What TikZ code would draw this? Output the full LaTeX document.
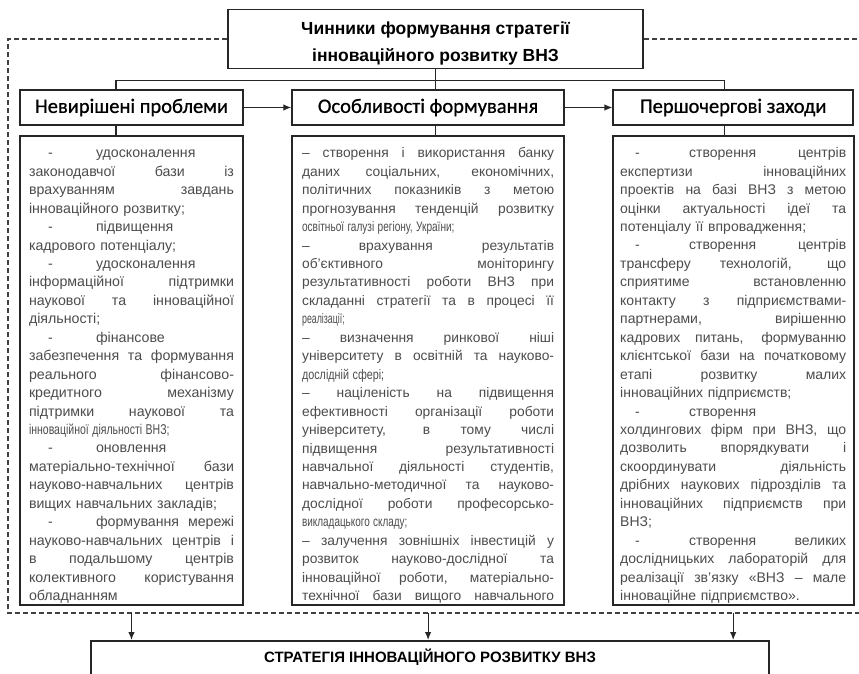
\documentclass[tikz,border=0pt]{standalone}
\usepackage{fontspec}
\setmainfont{Liberation Sans}
\newfontfamily\headfont[FakeBold=0.9]{Carlito}
\usetikzlibrary{arrows.meta, positioning}

% one text line: justified, left with natural spaces, or left and squeezed
\newlength\dashin
\newlength\dashtab
\newcommand\lnj[1]{\noindent\hbox to\hsize{\spaceskip=.24em plus 1fil minus .08em\xspaceskip=\spaceskip #1}\par}
\newcommand\lnl[1]{\noindent\hbox to\hsize{#1\hfil}\par}
\newcommand\lnc[2]{\noindent\hbox to\hsize{\scalebox{#1}[1]{#2}\hfil}\par}
\newcommand\tabj[1]{\lnj{\hbox to\dashtab{\hskip\dashin -\hfil}#1}}
\newcommand\tabl[1]{\lnl{\hbox to\dashtab{\hskip\dashin -\hfil}#1}}
\newcommand\firstgap{\rule{0pt}{20pt}}

\begin{document}
\begin{tikzpicture}[
    x=1pt, y=1pt,
    node distance=9.5pt and 47.5pt,
    >={Latex[length=8pt, width=6.5pt]},
    title/.style={rectangle, draw=black!85, line width=1.6pt, fill=white, minimum width=415pt, minimum height=58pt, align=center, font=\bfseries\fontsize{17.5}{27}\selectfont},
    head/.style={rectangle, draw=black!85, line width=1.6pt, fill=white, minimum height=35pt, inner sep=0pt, font=\headfont\fontsize{20.5}{20.5}\selectfont},
    content/.style={rectangle, draw=black!85, line width=1.6pt, fill=white, minimum height=469pt, inner ysep=0pt, text=black!70},
    result/.style={rectangle, draw=black!85, line width=1.6pt, anchor=north, minimum width=678pt, inner sep=0pt, text height=22pt, text depth=20pt, font=\bfseries\fontsize{15}{15}\selectfont},
    line/.style={line width=1.2pt, color=black!85},
    arrow/.style={->, line width=1.2pt, color=black!85},
    frame/.style={line width=1.3pt, color=black!75, dash pattern=on 5pt off 3pt},
]
\useasboundingbox (0,0) rectangle (859,-674);

% --- Title ---
\node[title] (top) at (435.5,-39) {\rule{0pt}{22pt}Чинники формування стратегії\\інноваційного розвитку ВНЗ};

% --- Headers ---
\node[head, minimum width=223pt] (h1) at (131.5,-107.5) {Невирішені проблеми};
\node[head, minimum width=272pt, right=of h1] (h2) {Особливості формування};
\node[head, minimum width=240pt, right=of h2] (h3) {Першочергові заходи};

% --- Unsolved problems ---
\node[content, text width=205pt, inner xsep=9pt, font=\fontsize{14.2}{18.45}\selectfont, below=of h1] (c1) {%
\setlength\dashin{19pt}\setlength\dashtab{67pt}%
\tabl{\firstgap удосконалення}
\lnj{законодавчої бази із}
\lnj{врахуванням завдань}
\lnl{інноваційного розвитку;}
\tabl{підвищення}
\lnl{кадрового потенціалу;}
\tabl{удосконалення}
\lnj{інформаційної підтримки}
\lnj{наукової та інноваційної}
\lnl{діяльності;}
\tabl{фінансове}
\lnj{забезпечення та формування}
\lnj{реального фінансово-}
\lnj{кредитного механізму}
\lnj{підтримки наукової та}
\lnc{0.74}{інноваційної діяльності ВНЗ;}
\tabl{оновлення}
\lnj{матеріально-технічної бази}
\lnj{науково-навчальних центрів}
\lnl{вищих навчальних закладів;}
\tabj{формування мережі}
\lnj{науково-навчальних центрів і}
\lnj{в подальшому центрів}
\lnj{колективного користування}
\lnl{обладнанням}};

% --- Features of forming ---
\node[content, text width=252pt, inner xsep=10pt, font=\fontsize{13.8}{18.45}\selectfont, below=of h2] (c2) {%
\lnj{\firstgap– створення і використання банку}
\lnj{даних соціальних, економічних,}
\lnj{політичних показників з метою}
\lnj{прогнозування тенденцій розвитку}
\lnc{0.73}{освітньої галузі регіону, України;}
\lnj{– врахування результатів}
\lnj{об’єктивного моніторингу}
\lnj{результативності роботи ВНЗ при}
\lnj{складанні стратегії та в процесі її}
\lnc{0.64}{реалізації;}
\lnj{– визначення ринкової ніші}
\lnj{університету в освітній та науково-}
\lnc{0.78}{дослідній сфері;}
\lnj{– націленість на підвищення}
\lnj{ефективності організації роботи}
\lnj{університету, в тому числі}
\lnj{підвищення результативності}
\lnj{навчальної діяльності студентів,}
\lnj{навчально-методичної та науково-}
\lnj{дослідної роботи професорсько-}
\lnc{0.72}{викладацького складу;}
\lnj{– залучення зовнішніх інвестицій у}
\lnj{розвиток науково-дослідної та}
\lnj{інноваційної роботи, матеріально-}
\lnj{технічної бази вищого навчального}};

% --- Priority measures ---
\node[content, text width=226pt, inner xsep=7.5pt, font=\fontsize{14}{18.45}\selectfont, below=of h3] (c3) {%
\setlength\dashin{15pt}\setlength\dashtab{69pt}%
\tabj{\firstgap створення центрів}
\lnj{експертизи інноваційних}
\lnj{проектів на базі ВНЗ з метою}
\lnj{оцінки актуальності ідеї та}
\lnl{потенціалу її впровадження;}
\tabj{створення центрів}
\lnj{трансферу технологій, що}
\lnj{сприятиме встановленню}
\lnj{контакту з підприємствами-}
\lnj{партнерами, вирішенню}
\lnj{кадрових питань, формуванню}
\lnj{клієнтської бази на початковому}
\lnj{етапі розвитку малих}
\lnl{інноваційних підприємств;}
\tabl{створення}
\lnj{холдингових фірм при ВНЗ, що}
\lnj{дозволить впорядкувати і}
\lnj{скоординувати діяльність}
\lnj{дрібних наукових підрозділів та}
\lnj{інноваційних підприємств при}
\lnl{ВНЗ;}
\tabj{створення великих}
\lnj{дослідницьких лабораторій для}
\lnj{реалізації зв’язку «ВНЗ – мале}
\lnl{інноваційне підприємство».}};

% --- Strategy ---
\node[result] (strat) at (430,-640) {СТРАТЕГІЯ ІННОВАЦІЙНОГО РОЗВИТКУ ВНЗ};

% --- Dashed frame ---
\coordinate (ftl) at (8,-39);
\coordinate (fbl) at (8,-613);
\coordinate (fbr) at (862,-613);
\coordinate (ftr) at (862,-39);
\draw[frame] (top.west) -- (ftl) -- (fbl) -- (fbr);
\draw[frame] (top.east) -- (ftr);

% --- Title to headers ---
\path (top.south) ++(0,-11) coordinate (bus);
\draw[line] ([xshift=-15.5pt]h1.north) |- (bus) -| ([xshift=-9pt]h3.north);
\draw[line] (top.south) -- (top.south |- h2.north);

% --- Headers to content ---
\draw[line] ([xshift=-15.5pt]h1.south) -- ([xshift=-15.5pt]c1.north);
\draw[line] (top.south |- h2.south) -- (top.south |- c2.north);
\draw[line] ([xshift=-9pt]h3.south) -- ([xshift=-9pt]c3.north);

% --- Arrows between headers ---
\draw[arrow] (h1.east) -- (h2.west);
\draw[arrow] (h2.east) -- (h3.west);

% --- Arrows to strategy ---
\draw[arrow] (c1.south |- fbl) -- (c1.south |- strat.north);
\draw[arrow] (c2.south |- fbl) -- (c2.south |- strat.north);
\draw[arrow] (c3.south |- fbl) -- (c3.south |- strat.north);

\end{tikzpicture}
\end{document}
